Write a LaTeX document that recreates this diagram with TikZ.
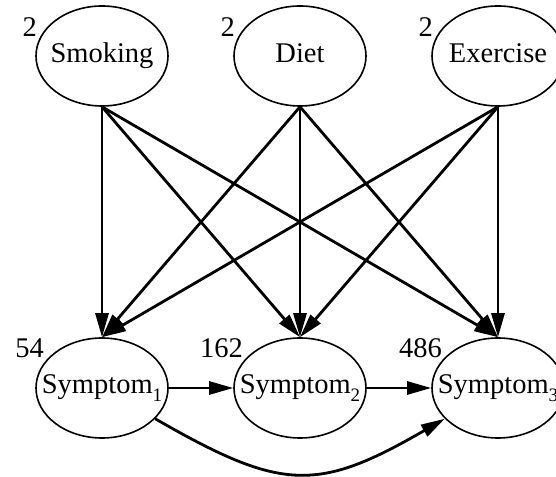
\documentclass[tikz,border=0pt]{standalone}
\usepackage{fontspec}
\setmainfont{Liberation Serif}
\usetikzlibrary{arrows.meta,calc,shapes.geometric}

% subscript index for the symptom variables
\newcommand\symsub[1]{\raisebox{-0.28em}{\fontsize{19}{19}\selectfont #1}}
% centred variable name with a common baseline
\newcommand\varname[1]{\makebox[0pt]{\vphantom{Sgy}#1}}

\begin{document}
\begin{tikzpicture}[x=1pt,y=1pt,
  var/.style={draw, line width=1.6pt, ellipse, minimum width=132pt,
              minimum height=100pt, inner sep=0pt,
              font=\fontsize{28.5}{30}\selectfont},
  num/.style={anchor=base east, inner sep=0pt,
              font=\fontsize{28.5}{30}\selectfont},
  link/.style={line width=2.8pt, -{Triangle[length=24pt,width=13pt]}},
]
\useasboundingbox (0,0) rectangle (556,476);

% risk factors
\node[var] (smk) at (102,420) {\varname{Smoking}};
\node[var] (diet) at (300,420) {\varname{Diet}};
\node[var] (exer) at (498,420) {\varname{Exercise}};

% symptoms
\node[var] (s1) at (102,88) {\varname{Symptom\symsub{1}}};
\node[var] (s2) at (300,88) {\varname{Symptom\symsub{2}}};
\node[var] (s3) at (498,88) {\varname{Symptom\symsub{3}}};

% table sizes
\node[num] (nsmk) at ($(smk.center)+(-65,19)$) {2};
\node[num] (ndiet) at ($(diet.center)+(-65,19)$) {2};
\node[num] (nexer) at ($(exer.center)+(-65,19)$) {2};
\node[num] (ns1) at ($(s1.center)+(-58,30)$) {54};
\node[num] (ns2) at ($(s2.center)+(-57,30)$) {162};
\node[num] (ns3) at ($(s3.center)+(-56,30)$) {486};

% factor -> symptom dependencies
\foreach \a in {smk,diet,exer}
  \foreach \b in {s1,s2,s3}
    \draw[link] (\a.south) -- (\b.north);

% symptom chain
\draw[link] (s1) -- (s2);
\draw[link] (s2) -- (s3);
\draw[link] (s1.-30) to[out=-30,in=210,looseness=1.3] (s3.-150);
\end{tikzpicture}
\end{document}
